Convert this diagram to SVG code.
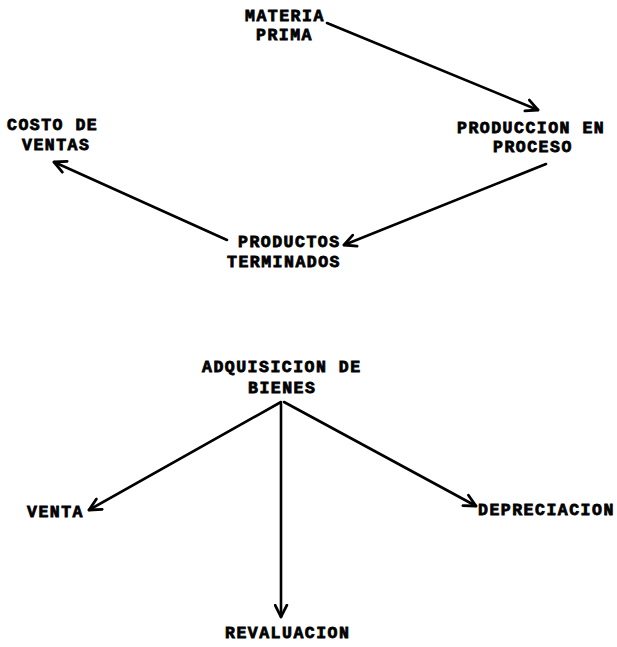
<svg xmlns="http://www.w3.org/2000/svg" width="617" height="647" viewBox="0 0 617 647">
<style>
.lbl{font-family:"Liberation Mono","Courier New",monospace;font-weight:bold;font-size:16.5px;letter-spacing:1.5px;fill:#000;stroke:#000;stroke-width:0.8}
.edge{stroke:#000;stroke-width:2.6;fill:none;stroke-linecap:round}
</style>
<defs>
<marker id="arr" viewBox="0 0 14 14" refX="12.5" refY="7" markerWidth="15" markerHeight="15" markerUnits="userSpaceOnUse" orient="auto">
<path d="M1.5,1.5 L12.5,7 L1.5,12.5" fill="none" stroke="#000" stroke-width="2.6" stroke-linecap="round" stroke-linejoin="round"/>
</marker>
</defs>
<rect width="617" height="647" fill="#fff"/>
<g id="connectors">
<line class="edge" x1="327" y1="23" x2="538" y2="110" marker-end="url(#arr)"/>
<line class="edge" x1="546" y1="164" x2="344" y2="245" marker-end="url(#arr)"/>
<line class="edge" x1="227" y1="240" x2="54" y2="162" marker-end="url(#arr)"/>
<line class="edge" x1="281" y1="402" x2="89" y2="510" marker-end="url(#arr)"/>
<line class="edge" x1="284" y1="402" x2="476" y2="506" marker-end="url(#arr)"/>
<line class="edge" x1="281" y1="404" x2="281" y2="617" marker-end="url(#arr)"/>
</g>
<g id="materia-prima">
<text class="lbl" x="245" y="21">MATERIA</text>
<text class="lbl" x="256" y="40">PRIMA</text>
</g>
<g id="produccion-en-proceso">
<text class="lbl" x="457" y="133">PRODUCCION EN</text>
<text class="lbl" x="493" y="152">PROCESO</text>
</g>
<g id="productos-terminados">
<text class="lbl" x="238" y="247">PRODUCTOS</text>
<text class="lbl" x="227" y="267">TERMINADOS</text>
</g>
<g id="costo-de-ventas">
<text class="lbl" x="7" y="130">COSTO DE</text>
<text class="lbl" x="22" y="150">VENTAS</text>
</g>
<g id="adquisicion-de-bienes">
<text class="lbl" x="202" y="372">ADQUISICION DE</text>
<text class="lbl" x="248" y="393">BIENES</text>
</g>
<g id="venta">
<text class="lbl" x="27" y="517">VENTA</text>
</g>
<g id="depreciacion">
<text class="lbl" x="478" y="515">DEPRECIACION</text>
</g>
<g id="revaluacion">
<text class="lbl" x="225" y="638">REVALUACION</text>
</g>
</svg>
